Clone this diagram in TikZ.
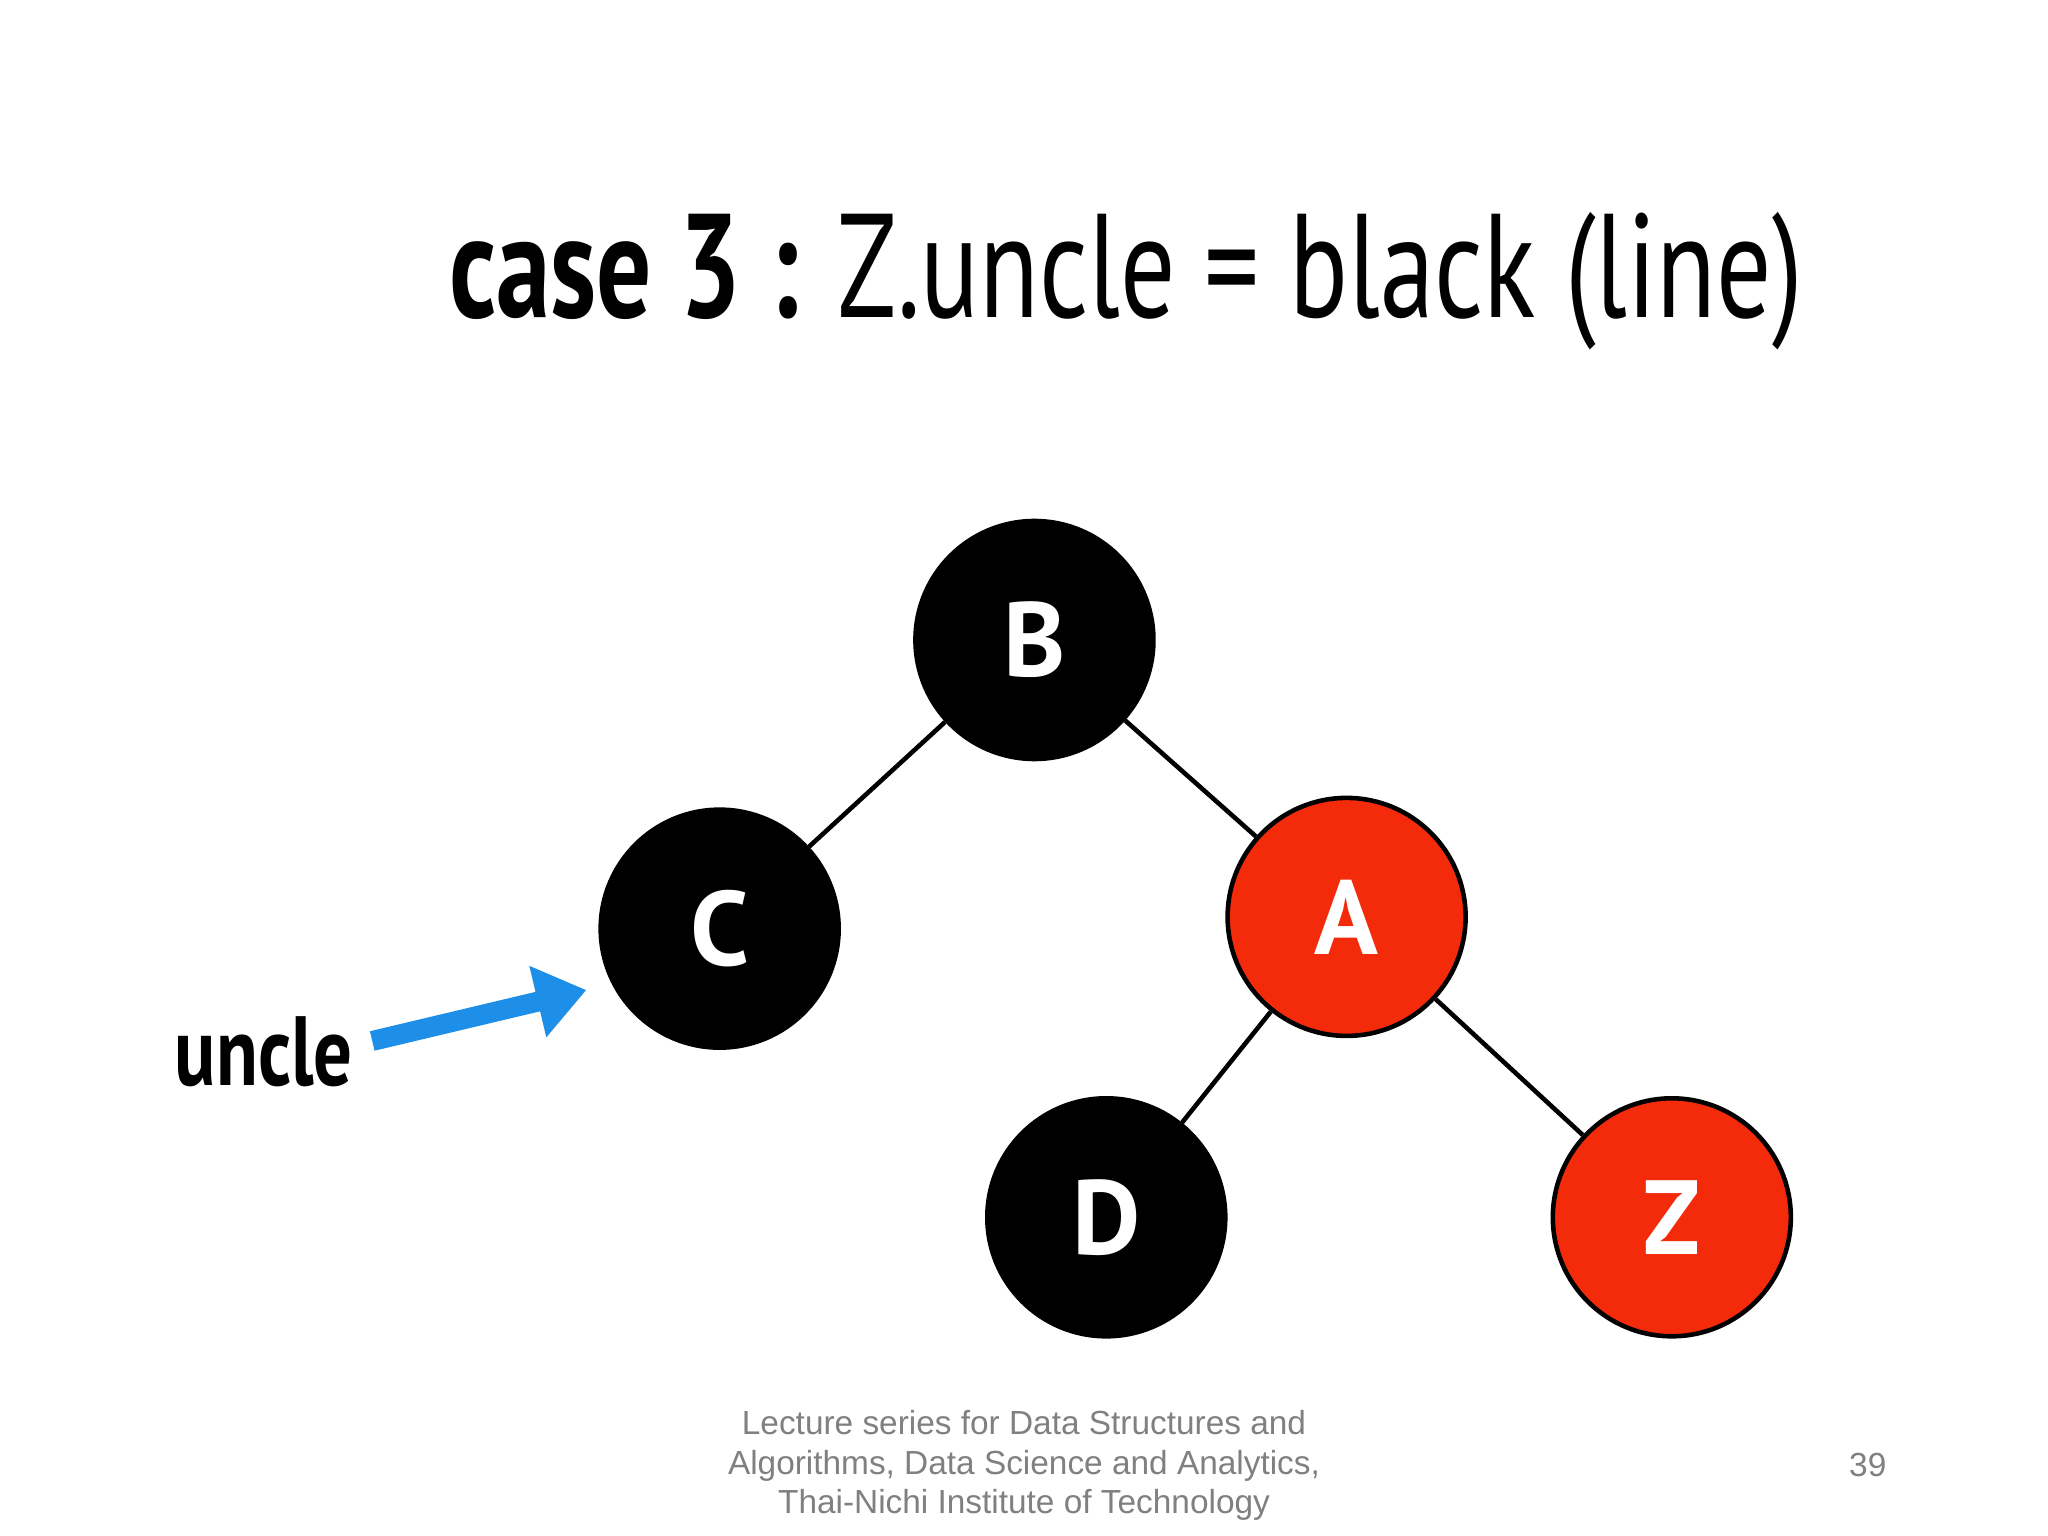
\documentclass[tikz,border=0pt]{standalone}
\usepackage{fontspec}
\setmainfont{Liberation Sans}
\newfontfamily\titlef{PT Sans}
\usetikzlibrary{arrows.meta}
\definecolor{rbred}{HTML}{F42B0A}
\definecolor{uncblue}{HTML}{1E8FE8}
\begin{document}
\begin{tikzpicture}[x=0.01306cm,y=-0.01306cm,
  rb/.style={circle,draw=black,line width=1.3pt,minimum size=2.38cm,inner sep=0pt,text=white,font=\titlef\bfseries\fontsize{30}{30}\selectfont},
  blk/.style={rb,fill=black},
  red/.style={rb,fill=rbred},
  edge/.style={line width=1.3pt}]
\useasboundingbox (0,0) rectangle (1568,1176);
\node[font=\titlef\fontsize{42}{42}\selectfont,xscale=0.74,anchor=center] (title) at (862,215) {\textbf{case 3 :} Z.uncle = black (line)};
\node[blk] (B) at (792,490) {B};
\node[blk] (C) at (551,711) {C};
\node[red] (A) at (1031,702) {A};
\node[blk] (D) at (847,932) {D};
\node[red] (Z) at (1280,932) {Z};
\draw[edge] (B) -- (C);
\draw[edge] (B) -- (A);
\draw[edge] (A) -- (D);
\draw[edge] (A) -- (Z);
\node[font=\titlef\bfseries\fontsize{28}{28}\selectfont,xscale=0.78] (u) at (202,805) {uncle};
\coordinate (tip) at (449,758);
\draw[uncblue,line width=2mm,-{Triangle[length=5mm,width=7mm]}] (285,797) -- (tip);
\node[text=gray,font=\fontsize{9.5}{11.3}\selectfont,align=center] (foot) at (784,1122) {Lecture series for Data Structures and\\Algorithms, Data Science and Analytics,\\Thai-Nichi Institute of Technology};
\node[text=gray,font=\fontsize{9.5}{11.3}\selectfont] (pg) at (1430,1122) {39};
\end{tikzpicture}
\end{document}
